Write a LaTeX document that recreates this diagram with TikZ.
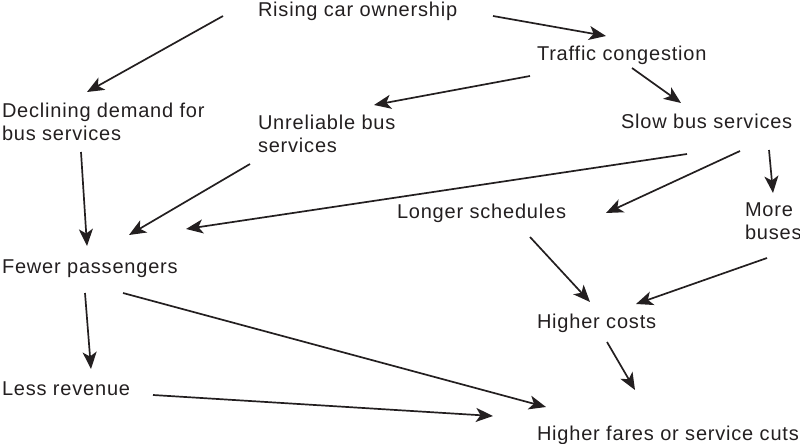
\documentclass[tikz,border=0pt]{standalone}
\usepackage{fontspec}
\setmainfont{Liberation Sans}[LetterSpace=4]
\usetikzlibrary{arrows.meta}
\definecolor{ink}{HTML}{231F20}
\tikzset{
  lbl/.style={inner sep=0pt, outer sep=0pt, text=ink, font=\fontsize{20}{23}\selectfont, align=left},
  cause/.style={draw=ink, line width=1.7pt, -{Stealth[length=17pt,width=14pt,inset=4.5pt]}}
}
\begin{document}
\begin{tikzpicture}[x=1pt,y=-1pt]
\useasboundingbox (0,0) rectangle (800,444);
\node[lbl, anchor=base west] (rise) at (258,17) {Rising car ownership};
\node[lbl, anchor=base west] (traf) at (537,61) {Traffic congestion};
\node[lbl, anchor=north west] (decl) at (2,103) {Declining demand for\\bus services};
\node[lbl, anchor=north west] (unrel) at (258,115) {Unreliable bus\\services};
\node[lbl, anchor=base west] (slow) at (621,128) {Slow bus services};
\node[lbl, anchor=base west] (longer) at (397,218) {Longer schedules};
\node[lbl, anchor=north west] (more) at (745,203) {More\\buses};
\node[lbl, anchor=base west] (fewer) at (2,273) {Fewer passengers};
\node[lbl, anchor=base west] (costs) at (537,328) {Higher costs};
\node[lbl, anchor=base west] (less) at (2,395) {Less revenue};
\node[lbl, anchor=base west] (fares) at (537,440) {Higher fares or service cuts};

\draw[cause] ([shift={(-35,-1)}]rise.base west) -- ([shift={(85,-11)}]decl.north west);
\draw[cause] ([shift={(235,-1)}]rise.base west) -- ([shift={(69,-25)}]traf.base west);
\draw[cause] ([shift={(-7,15)}]traf.base west) -- ([shift={(116,-10)}]unrel.north west);
\draw[cause] ([shift={(95,7)}]traf.base west) -- ([shift={(60,-25)}]slow.base west);
\draw[cause] ([shift={(79,49)}]decl.north west) -- ([shift={(85,-27)}]fewer.base west);
\draw[cause] ([shift={(-8,49)}]unrel.north west) -- ([shift={(127,-38)}]fewer.base west);
\draw[cause] ([shift={(66,26)}]slow.base west) -- ([shift={(184,-44)}]fewer.base west);
\draw[cause] ([shift={(119,23)}]slow.base west) -- ([shift={(209,-5)}]longer.base west);
\draw[cause] ([shift={(148,22)}]slow.base west) -- ([shift={(28,-10)}]more.north west);
\draw[cause] ([shift={(133,19)}]longer.base west) -- ([shift={(53,-26)}]costs.base west);
\draw[cause] ([shift={(22,55)}]more.north west) -- ([shift={(99,-24)}]costs.base west);
\draw[cause] ([shift={(83,20)}]fewer.base west) -- ([shift={(89,-26)}]less.base west);
\draw[cause] ([shift={(121,20)}]fewer.base west) -- ([shift={(9,-33)}]fares.base west);
\draw[cause] ([shift={(151,0)}]less.base west) -- ([shift={(-44,-24)}]fares.base west);
\draw[cause] ([shift={(70,14)}]costs.base west) -- ([shift={(98,-50)}]fares.base west);
\end{tikzpicture}
\end{document}
